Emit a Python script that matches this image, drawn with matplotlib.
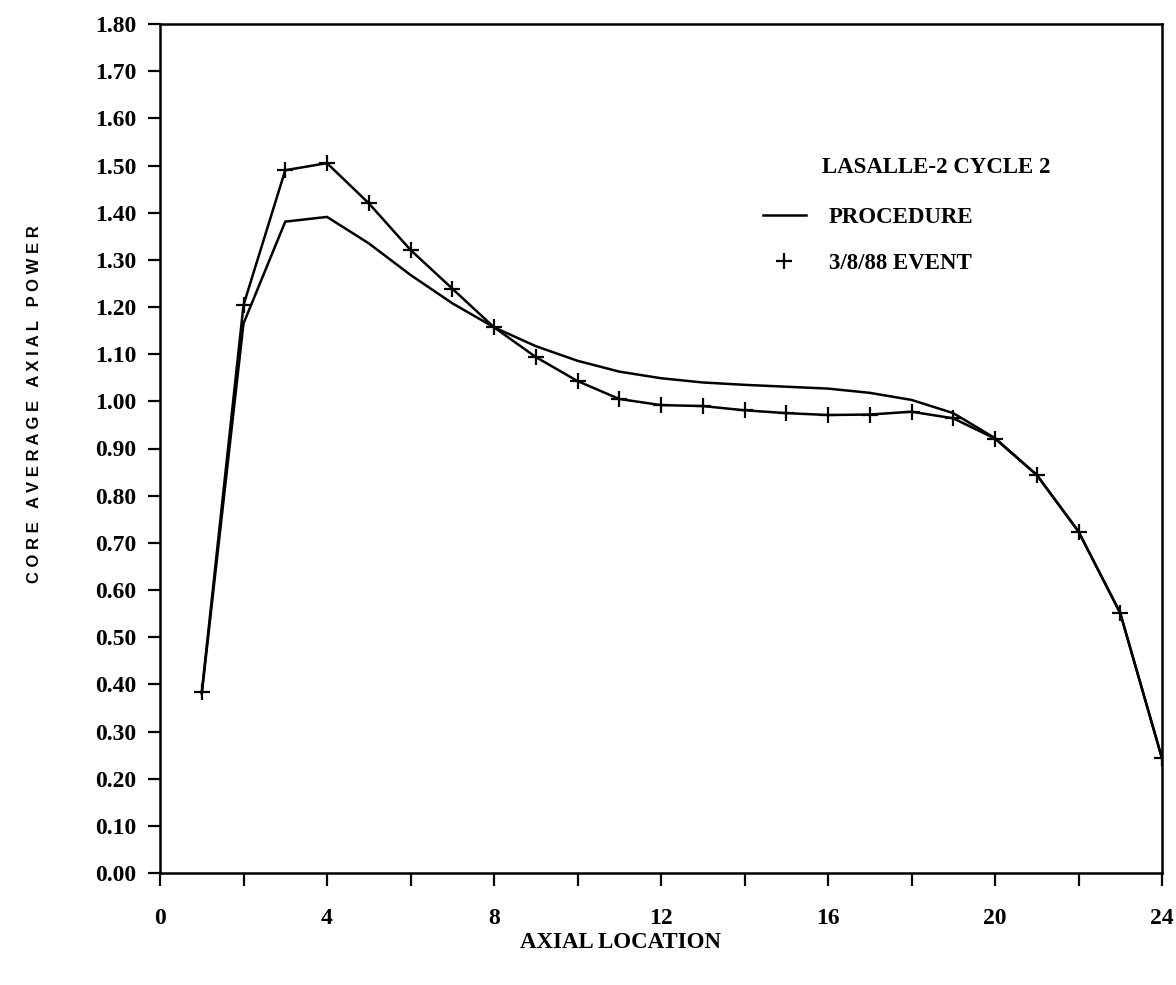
"""Core average axial power, LaSalle-2 cycle 2: procedure vs 3/8/88 event."""
import matplotlib
matplotlib.use("Agg")
import matplotlib.pyplot as plt
from matplotlib.lines import Line2D
from matplotlib.ticker import FormatStrFormatter

AXIAL = list(range(1, 25))
PROCEDURE = [0.38, 1.165, 1.381, 1.391, 1.335, 1.268, 1.208, 1.157, 1.117, 1.086,
             1.063, 1.049, 1.040, 1.035, 1.031, 1.027, 1.018, 1.003, 0.975, 0.922,
             0.844, 0.724, 0.551, 0.243]
EVENT = [0.383, 1.204, 1.490, 1.505, 1.420, 1.321, 1.239, 1.157, 1.094, 1.043,
         1.005, 0.992, 0.990, 0.981, 0.975, 0.971, 0.972, 0.978, 0.964, 0.921,
         0.844, 0.724, 0.551, 0.243]
X_TICKS = list(range(0, 25, 2))
X_TICK_LABELS = [str(v) if v % 4 == 0 else "" for v in X_TICKS]
Y_TICKS = [i / 10 for i in range(19)]

SERIF = ["Liberation Serif", "DejaVu Serif"]
SANS = ["Liberation Sans", "DejaVu Sans"]

fig = plt.figure(figsize=(11.76, 9.85), dpi=100)
ax = fig.add_axes([160 / 1176, 112 / 985, 1002 / 1176, 849 / 985])

ax.plot(AXIAL, PROCEDURE, color="black", lw=1.8)
ax.plot(AXIAL, EVENT, color="black", lw=1.8, marker="+", ms=12, mew=1.6)

ax.set_xlim(0, 24)
ax.set_ylim(0, 1.8)
ax.set_xticks(X_TICKS)
ax.set_xticklabels(X_TICK_LABELS)
ax.set_yticks(Y_TICKS)
ax.yaxis.set_major_formatter(FormatStrFormatter("%.2f"))
ax.tick_params(axis="both", direction="out", length=9, width=1.6)
ax.tick_params(axis="x", pad=16)
ax.tick_params(axis="y", pad=8)
for lab in ax.get_xticklabels() + ax.get_yticklabels():
    lab.set_fontfamily(SERIF)
    lab.set_fontweight("bold")
    lab.set_fontsize(17)
for sp in ax.spines.values():
    sp.set_linewidth(1.8)

# legend: title line plus two entries
fig.text(822 / 1176, 1 - 168 / 985, "LASALLE-2 CYCLE 2", family=SERIF,
         fontweight="bold", fontsize=16.5, va="center", ha="left")
handles = [Line2D([], [], color="black", lw=1.8),
           Line2D([], [], color="black", ls="none", marker="+", ms=11, mew=1.6)]
leg = ax.legend(handles, ["PROCEDURE", "3/8/88 EVENT"], loc="upper left",
                bbox_to_anchor=(742 / 1176, 1 - 186 / 985), bbox_transform=fig.transFigure,
                frameon=False, handlelength=1.9, handletextpad=1.0, labelspacing=1.1,
                prop={"family": SERIF, "weight": "bold", "size": 16.5})

fig.text(35 / 1176, 1 - 404 / 985, "C O R E   A V E R A G E   A X I A L   P O W E R",
         family=SANS, fontweight="bold", fontsize=12, rotation=90, ha="center", va="center")
fig.text(620 / 1176, 1 - 943 / 985, "AXIAL LOCATION", family=SERIF,
         fontweight="bold", fontsize=16.5, ha="center", va="center")

fig.savefig("out.png", dpi=100)
